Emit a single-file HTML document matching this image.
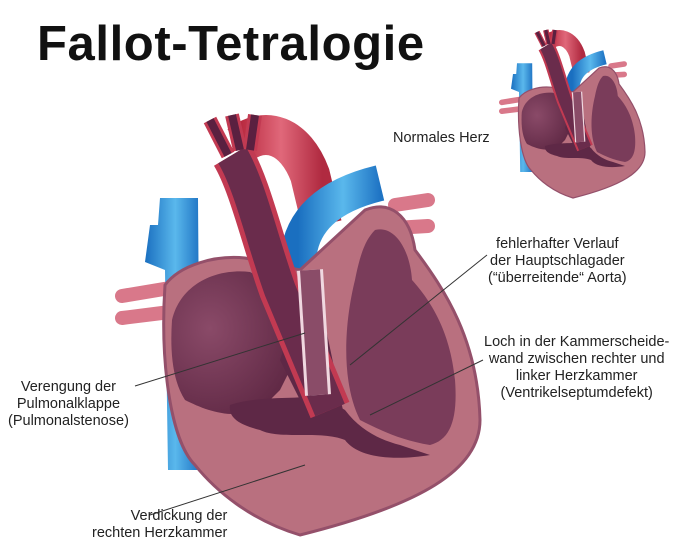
<!DOCTYPE html>
<html><head><meta charset="utf-8"><style>
html,body{margin:0;padding:0;background:#fff;}
body{width:696px;height:554px;overflow:hidden;position:relative;font-family:"Liberation Sans",sans-serif;}
.t{position:absolute;font-size:14.5px;color:#222;line-height:17px;white-space:nowrap;}
h1{position:absolute;left:37px;top:16px;margin:0;font-size:49px;font-weight:bold;color:#111;letter-spacing:0.6px;}
</style></head><body>
<svg width="696" height="554" style="position:absolute;left:0;top:0">
<defs>
<linearGradient id="bl" x1="0" x2="1"><stop offset="0" stop-color="#1a6fc0"/><stop offset=".55" stop-color="#5ab8ec"/><stop offset="1" stop-color="#1f74c4"/></linearGradient>
<radialGradient id="ch" cx=".3" cy=".4" r=".8"><stop offset="0" stop-color="#8a4a68"/><stop offset="1" stop-color="#5a2440"/></radialGradient>
<linearGradient id="rd" x1="0" x2="1"><stop offset="0" stop-color="#b8283e"/><stop offset=".5" stop-color="#e0687a"/><stop offset="1" stop-color="#b02a40"/></linearGradient>
<g id="heart">
 <path d="M395 205 L428 200 M395 228 L428 226" stroke="#d9788a" stroke-width="14" stroke-linecap="round"/>
 <path d="M122 296 L170 288 M122 318 L170 312" stroke="#d9788a" stroke-width="14" stroke-linecap="round"/>
 <path d="M240 145 C265 125 295 135 310 175 L322 225" stroke="url(#rd)" stroke-width="40" fill="none"/>
 <path d="M150 225 L158 225 L160 198 L198 198 L200 470 L168 470 L165 270 L145 262 Z" fill="url(#bl)"/>
 <path d="M300 330 L298 265 C298 220 330 195 380 183" stroke="url(#bl)" stroke-width="36" fill="none"/>
 <path d="M165 285 C180 265 215 255 245 258 L300 270 L365 210 C390 200 410 215 415 250 C445 290 478 340 480 420 C480 470 420 505 300 535 C250 520 215 490 195 465 C170 440 160 360 165 285 Z" fill="#b9707f" stroke="#94506a" stroke-width="3"/>
 <path d="M172 320 C180 285 215 268 250 272 L285 290 L300 350 L280 390 L260 410 C230 420 205 410 185 400 C172 380 170 350 172 320 Z" fill="url(#ch)"/>
 <path d="M375 230 C395 225 410 250 412 280 C430 300 450 330 455 380 C458 420 450 440 430 445 C400 440 380 430 360 420 C340 380 345 320 355 280 C360 255 365 240 375 230 Z" fill="#7a3c5a"/>
 <path d="M230 405 C260 395 300 400 320 395 L345 410 C360 430 380 440 400 445 L430 455 C400 460 360 460 345 440 C320 430 280 440 260 430 C240 425 228 418 230 405 Z" fill="#5e2846"/>
 <path d="M280 360 L300 300 L320 300 L345 420 L310 420 Z" fill="#5e2846"/>
 <path d="M232 155 C250 185 262 240 280 290 L330 410" stroke="#c23a52" stroke-width="42" fill="none"/>
 <path d="M232 155 C250 185 262 240 280 290 L330 410" stroke="#6a2c4c" stroke-width="32" fill="none"/>
 <path d="M210 120 L228 155 M232 115 L240 150 M255 115 L250 150" stroke="#c23a52" stroke-width="14"/>
 <path d="M210 120 L228 155 M232 115 L240 150 M255 115 L250 150" stroke="#5a2040" stroke-width="8"/>
 <path d="M310 270 L318 395" stroke="#f0d8e0" stroke-width="26"/>
 <path d="M310 270 L318 395" stroke="#8a4c68" stroke-width="20"/>
</g>
</defs>
<use href="#heart"/>
<use href="#heart" transform="translate(453,-16) scale(0.4)"/>
<g stroke="#333" stroke-width="1" fill="none">
 <line x1="135" y1="386" x2="305" y2="333"/>
 <line x1="150" y1="515" x2="305" y2="465"/>
 <line x1="487" y1="255" x2="350" y2="365"/>
 <line x1="483" y1="360" x2="370" y2="415"/>
</g>
</svg>
<h1>Fallot-Tetralogie</h1>
<div class="t" style="left:393px;top:130px">Normales Herz</div>
<div class="t" style="left:488px;top:236px;text-align:center">fehlerhafter Verlauf<br>der Hauptschlagader<br>(“überreitende“ Aorta)</div>
<div class="t" style="left:484px;top:334px;text-align:center">Loch in der Kammerscheide-<br>wand zwischen rechter und<br>linker Herzkammer<br>(Ventrikelseptumdefekt)</div>
<div class="t" style="left:8px;top:379px;text-align:center">Verengung der<br>Pulmonalklappe<br>(Pulmonalstenose)</div>
<div class="t" style="left:92px;top:508px;text-align:right">Verdickung der<br>rechten Herzkammer</div>
</body></html>
